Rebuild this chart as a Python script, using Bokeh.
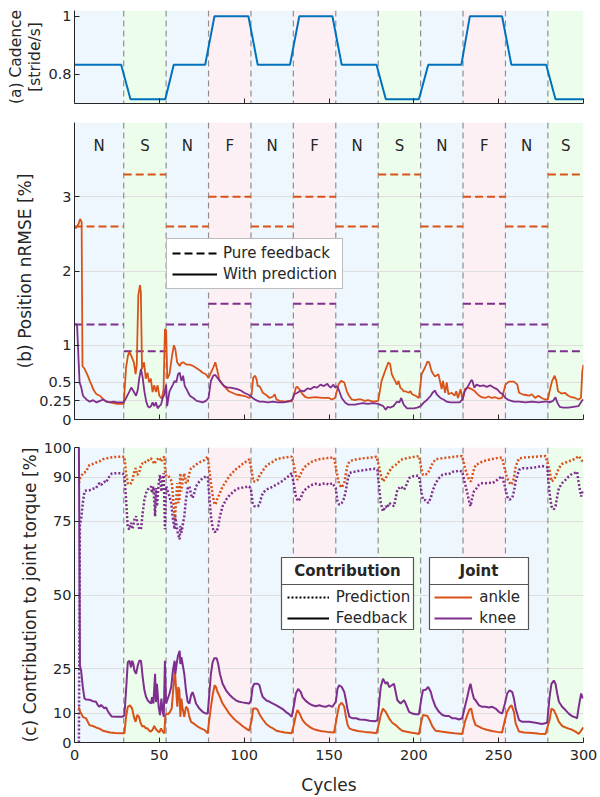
from bokeh.plotting import figure
from bokeh.layouts import column
from bokeh.models import (Range1d, FixedTicker, Legend, LegendItem, BoxAnnotation,
                          Label, Span)
from bokeh.core.properties import value
from bokeh.embed import file_html
from bokeh.resources import INLINE

FONT = "DejaVu Sans"
ORANGE = "#D95319"
PURPLE = "#7E2F8E"
BLUE = "#0072BD"
TXT = "#262626"

# ---------------- data ----------------
phase_start = [0, 29, 54, 79, 104, 129, 154, 179, 204, 229, 254, 279]
phase_end = [29, 54, 79, 104, 129, 154, 179, 204, 229, 254, 279, 300]
phase_label = ["N", "S", "N", "F", "N", "F", "N", "S", "N", "F", "N", "S"]
phase_color = {"N": "#eef7fd", "S": "#edfdeb", "F": "#fdf0f4"}

cadence_cycle = [0, 27.5, 33, 53.5, 58.5, 77, 82.5, 102.5, 108, 127, 132.5, 152, 157.5,
                 178, 183.5, 203, 208.5, 228, 233, 252, 257.5, 278, 283.5, 300]
cadence_value = [0.833, 0.833, 0.715, 0.715, 0.833, 0.833, 1.0, 1.0, 0.833, 0.833, 1.0, 1.0, 0.833,
                 0.833, 0.715, 0.715, 0.833, 0.833, 1.0, 1.0, 0.833, 0.833, 0.715, 0.715]

# pure-feedback nRMSE level per phase
ankle_pure = [2.6, 3.3, 2.6, 3.0, 2.6, 3.0, 2.6, 3.3, 2.6, 3.0, 2.6, 3.3]
knee_pure = [1.28, 0.92, 1.28, 1.56, 1.28, 1.56, 1.28, 0.92, 1.28, 1.56, 1.28, 0.92]

# with-prediction nRMSE (cycle, %)
ankle_nrmse = [
    (0.5, 2.57), (1.5, 2.6), (2.5, 2.64), (3.3, 2.7), (4.2, 2.66), (4.7, 0.72), (6, 0.68), (7, 0.63), (8, 0.58),
    (9, 0.52), (10, 0.47), (11, 0.41), (12, 0.37), (13, 0.34), (15, 0.32), (17, 0.27), (19, 0.24), (21, 0.23),
    (23, 0.22), (25, 0.21), (27, 0.21), (29, 0.21),
    (30.4, 0.70), (31.5, 0.86), (32.3, 0.91), (33.4, 0.86), (35, 0.77), (36, 0.61), (36.7, 0.74), (37.6, 1.67),
    (38.6, 1.81), (39.1, 1.72), (39.8, 0.68), (41, 0.77), (42, 0.55), (43, 0.63), (44, 0.50), (45, 0.55),
    (46, 0.37), (47, 0.46), (48, 0.37), (49, 0.46), (50, 0.32), (51.5, 0.28), (52.5, 0.41), (53.3, 1.22),
    (54, 1.20), (54.7, 0.55),
    (56, 0.61), (57.5, 0.86), (58.6, 1.0), (59.4, 0.95), (60.5, 0.77), (62, 0.72), (63, 0.76), (64, 0.77),
    (66, 0.74), (68, 0.74), (70, 0.72), (72, 0.69), (74, 0.66), (75.5, 0.63), (77.5, 0.61), (79, 0.56),
    (80.4, 0.63), (81.8, 0.70), (83, 0.77), (84, 0.68), (85.3, 0.54), (87.3, 0.47), (89, 0.43), (91, 0.38),
    (93, 0.36), (95, 0.34), (97, 0.33), (99, 0.32), (101, 0.31), (103, 0.29),
    (104.4, 0.34), (105.3, 0.56), (106.5, 0.59), (107.3, 0.54), (108, 0.45), (109, 0.45), (110, 0.41),
    (111, 0.36), (113, 0.33), (115, 0.29), (117, 0.31), (118, 0.34), (119, 0.27), (121, 0.25), (124, 0.24),
    (126, 0.25), (128, 0.24),
    (129.5, 0.34), (130.5, 0.43), (131.4, 0.44), (132.4, 0.41), (134.4, 0.34), (136.3, 0.30), (138, 0.29),
    (142, 0.30), (146, 0.29), (150, 0.29), (151.6, 0.27), (153.6, 0.29),
    (155.6, 0.47), (157, 0.52), (159, 0.50), (160.5, 0.38), (161.8, 0.32), (163.4, 0.27), (165.4, 0.26),
    (167, 0.27), (169, 0.27), (171, 0.25), (173, 0.26), (176, 0.24), (179, 0.25),
    (181, 0.52), (183, 0.65), (185, 0.77), (186, 0.75), (187, 0.61), (188, 0.56), (189, 0.52), (190, 0.47),
    (191, 0.52), (192, 0.43), (193, 0.41), (194, 0.38), (195, 0.38), (197, 0.36), (198, 0.38), (199, 0.34),
    (201, 0.32), (203, 0.29),
    (204.6, 0.61), (206.6, 0.70), (208, 0.78), (209, 0.77), (210.5, 0.65), (211.5, 0.61), (212.5, 0.58),
    (214.5, 0.61), (216.4, 0.41), (217.2, 0.52), (218.4, 0.36), (219.4, 0.50), (220.4, 0.34), (222.3, 0.36),
    (224, 0.32), (225, 0.38), (226, 0.29), (227.6, 0.41), (228.7, 0.25),
    (230, 0.41), (232, 0.43), (234, 0.41), (236, 0.38), (238, 0.33), (240, 0.30), (242, 0.29), (244, 0.31),
    (246, 0.29), (248, 0.30), (250, 0.28), (252, 0.29),
    (254, 0.47), (256, 0.51), (259, 0.51), (261, 0.47), (262, 0.36), (264, 0.34), (266, 0.33), (268, 0.32),
    (269.5, 0.34), (271.5, 0.29), (273.4, 0.32), (275.4, 0.29), (277.3, 0.27), (279, 0.27),
    (280, 0.38), (281.5, 0.52), (283, 0.59), (284, 0.52), (285, 0.38), (287, 0.35), (289, 0.36), (291, 0.32),
    (293, 0.30), (295, 0.29), (297, 0.27), (298.5, 0.29), (299.3, 0.65), (300, 0.74),
]
knee_nrmse = [
    (0.5, 1.28), (1.5, 1.28), (2.5, 0.75), (3, 0.50), (4, 0.43), (5, 0.32), (7, 0.27), (9, 0.24), (11, 0.26),
    (13, 0.23), (15, 0.25), (17, 0.27), (19, 0.24), (21, 0.23), (23, 0.24), (25, 0.23), (27, 0.23), (29, 0.23),
    (30.4, 0.29), (32.4, 0.38), (33.5, 0.43), (35.3, 0.36), (36.3, 0.32), (37.3, 0.40), (38.2, 0.56),
    (39.2, 0.68), (40.2, 0.56), (41.2, 0.38), (42.2, 0.25), (43.2, 0.18), (44.1, 0.16), (45.1, 0.18),
    (46, 0.23), (47, 0.18), (48, 0.23), (49, 0.15), (50, 0.18), (51, 0.20), (52, 0.29), (53, 0.34),
    (54, 0.47), (54.6, 0.18),
    (56, 0.38), (58, 0.47), (59, 0.52), (60, 0.50), (61, 0.61), (62, 0.63), (63, 0.52), (64, 0.59),
    (65, 0.45), (66, 0.41), (68, 0.32), (70, 0.29), (72, 0.25), (74, 0.24), (75.5, 0.23), (77.5, 0.25),
    (79, 0.29),
    (80.4, 0.52), (81.8, 0.59), (83, 0.60), (84.3, 0.56), (86.3, 0.50), (88.3, 0.45), (90.2, 0.43),
    (92, 0.43), (94, 0.42), (96, 0.41), (98, 0.39), (100, 0.36), (102, 0.34), (103.6, 0.32),
    (105, 0.29), (107, 0.26), (109, 0.24), (111, 0.24), (114, 0.23), (117, 0.24), (120, 0.23), (123, 0.23),
    (126, 0.24), (128.5, 0.27),
    (129.5, 0.34), (131.4, 0.36), (133.4, 0.39), (135.3, 0.38), (137.3, 0.42), (139.3, 0.41), (141.2, 0.44),
    (143, 0.43), (145, 0.47), (147, 0.45), (149, 0.48), (150, 0.45), (151, 0.43), (152.6, 0.47),
    (153.6, 0.43), (154.6, 0.45),
    (155.6, 0.41), (157.5, 0.29), (159.5, 0.23), (161.4, 0.20), (163.4, 0.20), (165.4, 0.20), (167.4, 0.21),
    (170, 0.22), (173, 0.21), (176, 0.22), (179, 0.21),
    (180, 0.20), (182, 0.18), (183.4, 0.13), (184.6, 0.17), (186, 0.16), (188, 0.18), (190, 0.24),
    (191.5, 0.23), (192.6, 0.29), (194, 0.20), (196, 0.15), (198, 0.15), (200, 0.15), (202, 0.16), (204, 0.18),
    (206, 0.23), (208, 0.27), (210, 0.32), (211, 0.36), (212.5, 0.39), (213.5, 0.34), (215.6, 0.29),
    (217.5, 0.27), (219.4, 0.24), (221.4, 0.23), (224, 0.23), (227, 0.23), (228.7, 0.27),
    (230, 0.38), (232, 0.45), (233.6, 0.52), (234.4, 0.53), (235.6, 0.43), (237, 0.47), (239, 0.45),
    (241, 0.46), (243, 0.44), (245, 0.46), (247, 0.43), (249, 0.41), (251, 0.36), (252.4, 0.34), (254, 0.29),
    (256, 0.26), (259, 0.24), (262, 0.24), (266, 0.23), (269.5, 0.24), (273.4, 0.23), (277.3, 0.24),
    (279, 0.24),
    (280, 0.23), (282, 0.25), (283.5, 0.30), (284.5, 0.23), (286, 0.17), (288, 0.16), (291, 0.16),
    (294, 0.17), (297, 0.18), (299, 0.25), (300, 0.27),
]

# feedback contribution to joint torque (cycle, %); prediction = 100 - feedback
knee_fb = [
    (2.6, 100), (3.2, 26), (3.9, 24.4), (4.9, 18.8), (5.9, 14.9), (6.8, 14.6), (8.8, 14.5), (10.8, 14.0),
    (12.7, 13.8), (13.7, 12.7), (14.7, 12.1), (15.7, 12.7), (16.7, 12.1), (17.6, 11.6), (18.6, 11.9),
    (19.6, 10.7), (20.6, 9.8), (22, 8.8), (25, 8.7), (28, 8.7),
    (29.4, 9.2), (30.4, 17.7), (31.4, 27.2), (32.4, 27.7), (33.3, 25.5), (34, 27.7), (34.7, 26.6),
    (35.3, 24.4), (36.3, 23.3), (37.3, 26.1), (38.2, 27.7), (39.2, 27.7), (40.2, 22.1), (41.2, 17.7),
    (42.2, 15.4), (43.2, 14.3), (44.1, 13.7), (45.1, 13.2), (45.7, 15.4), (46.5, 13.2), (47.5, 23.3),
    (48, 13.7), (48.6, 19.9), (49.6, 12.1), (50.4, 9.3), (51.2, 14.9), (52, 10.4), (52.6, 8.7),
    (53.3, 27.7), (54, 13.2),
    (55, 14.9), (56, 16.6), (57, 18.8), (58, 24.4), (59, 27.7), (59.4, 23.3), (60.2, 26.6), (61, 29.4),
    (62, 31.1), (62.4, 26.6), (63, 28.9), (63.7, 26.6), (64.7, 23.3), (65.7, 17.7), (66.7, 13.8),
    (67.7, 13.2), (68.7, 16.0), (69.6, 17.1), (70.6, 15.4), (71.6, 13.2), (73.6, 11.5), (75.5, 10.4),
    (77.5, 9.8), (78.5, 9.8),
    (79.4, 16.0), (80.4, 23.3), (81.4, 27.2), (82.4, 28.6), (83.8, 28.6), (84.7, 26.6), (85.7, 23.3),
    (87.3, 19.9), (89.3, 17.7), (91.2, 16.3), (93.2, 15.2), (95.1, 14.3), (97.1, 13.8), (99, 13.6),
    (101, 13.4), (103, 13.2),
    (104, 14.3), (105, 18.8), (106, 19.9), (108, 19.9), (109, 19.4), (110, 17.1), (111, 15.4), (113, 14.3),
    (115, 13.8), (117, 13.2), (119, 12.6), (121, 11.9), (123, 11.2), (124.5, 10.4), (126.5, 9.6), (128, 8.7),
    (129.5, 13.2), (130.5, 16.6), (131.8, 18.2), (133.4, 17.1), (134.4, 15.4), (136.3, 14.1), (138.3, 13.2),
    (140.3, 12.6), (142.2, 12.3), (144.2, 12.6), (146.1, 12.3), (148.1, 12.1), (150, 12.6), (152, 12.1),
    (154, 13.8),
    (155, 18.2), (156, 19.4), (157.5, 18.8), (159, 17.1), (160, 14.3), (161, 11.0), (162, 8.7), (164, 8.2),
    (166, 8.2), (168, 7.8), (171, 7.7), (174, 7.4), (177, 7.2), (178.5, 7.5),
    (179.5, 13.2), (180.5, 18.8), (181.8, 21.6), (183.4, 19.9), (184.4, 20.5), (185.4, 18.8), (187, 19.4),
    (188.3, 19.9), (189.3, 17.1), (190.3, 14.3), (192.2, 13.2), (194.2, 14.3), (195.2, 13.2), (197.2, 10.4),
    (199.1, 9.8), (201, 9.6), (203, 9.6),
    (204.6, 15.4), (205.4, 17.7), (207, 17.9), (208.5, 18.8), (210, 17.1), (211, 14.9), (212.8, 12.1),
    (214.8, 10.4), (216.8, 9.3), (218.7, 9.0), (220.7, 9.0), (222.7, 8.2), (224.6, 8.2), (226.6, 7.8),
    (228.5, 8.2),
    (230.1, 12.1), (231.5, 15.4), (232.8, 18.8), (233.4, 19.9), (234.4, 17.1), (235.4, 14.9), (236.4, 14.3),
    (238.4, 12.6), (240.3, 12.1), (242.3, 12.1), (244.2, 11.9), (246.2, 12.1), (248.2, 11.5), (250.1, 10.4),
    (252.1, 9.8),
    (253.7, 13.2), (255, 16.6), (256.4, 17.7), (258, 17.1), (259, 14.9), (260, 11.5), (262, 7.6), (264, 7.0),
    (268, 7.0), (271.7, 6.7), (275.6, 6.3), (278.6, 6.7),
    (280, 15.4), (281.1, 19.9), (282.5, 21.0), (283.5, 19.9), (284.5, 16.6), (285.5, 13.8), (287.4, 12.1),
    (289.4, 11.0), (291.3, 9.8), (293.3, 8.9), (295.3, 8.5), (296.2, 8.2), (297.2, 12.1), (298.6, 16.6),
    (299.6, 14.9),
]
ankle_fb = [
    (2.6, 12), (3.2, 10.5), (4, 9.8), (4.9, 8.7), (6.8, 8.2), (8.8, 5.9), (10.8, 5.6), (12.7, 5.1),
    (14.7, 4.7), (16.7, 4.0), (18.6, 3.7), (21, 3.4), (24, 3.2), (27.5, 3.1),
    (29.4, 3.1), (30.4, 8.7), (31.4, 12.1), (32.7, 12.6), (34, 11.5), (35, 8.7), (36, 7.0), (37, 9.3),
    (38, 8.7), (39, 6.5), (40, 5.4), (41, 5.6), (42, 4.8), (43, 4.8), (44, 4.0), (45, 3.7), (46, 4.3),
    (47, 5.6), (48, 4.5), (49, 3.9), (50, 3.4), (51, 4.8), (52, 3.7), (53, 3.1), (53.5, 9.0), (54.3, 9.8),
    (55.3, 9.6), (56.3, 10.4), (57.3, 11.5), (58.3, 18.8), (59.2, 24.4), (59.8, 18.8), (60.6, 12.1),
    (61.2, 18.8), (61.8, 17.7), (62.4, 8.7), (63, 14.9), (63.7, 11.5), (64.7, 8.7), (65.7, 12.1),
    (66.7, 11.5), (67.7, 8.7), (68.7, 7.0), (70.6, 6.3), (72.6, 5.4), (74.5, 4.8), (76.5, 4.3), (78.5, 3.1),
    (79.4, 7.6), (80.4, 12.1), (81.4, 16.0), (82.6, 19.4), (83.4, 18.8), (84.3, 17.1), (85.3, 16.0),
    (87.3, 13.2), (89.3, 11.5), (91.2, 9.8), (93.2, 8.5), (95.1, 7.4), (97.1, 6.5), (99, 5.6), (101, 4.8),
    (103, 4.0),
    (104.4, 7.6), (105.3, 11.5), (107, 11.5), (108, 11.0), (109, 9.6), (111, 7.8), (113, 6.3), (115, 5.4),
    (117, 4.8), (119, 4.0), (121, 3.7), (124, 3.4), (128, 3.1),
    (129.5, 6.5), (130.5, 9.3), (131.4, 11.0), (132.4, 10.1), (134.4, 7.6), (136.3, 6.3), (138.3, 5.4),
    (140.3, 4.7), (142.2, 4.3), (145, 3.9), (149, 3.6), (153, 3.4),
    (155, 9.8), (156, 12.6), (157.5, 13.5), (159, 12.1), (160, 8.7), (161, 5.9), (162, 4.8), (164, 4.3),
    (167, 3.9), (171, 3.6), (175, 3.4), (178, 3.1),
    (179.5, 6.5), (180.5, 9.3), (181.8, 11.5), (183.4, 10.4), (185.4, 8.2), (187.3, 6.7), (189.3, 5.9),
    (191.3, 4.8), (193.2, 4.0), (195.2, 3.7), (198, 3.4), (201, 3.1), (203, 2.9),
    (204.6, 7.6), (205.4, 9.3), (208, 9.0), (209.3, 7.6), (211, 5.4), (212.8, 4.0), (216, 3.7), (220, 3.4),
    (224, 3.1), (228.5, 2.9),
    (230.1, 7.0), (231.5, 9.3), (232.8, 11.2), (233.8, 11.5), (235, 8.2), (236.4, 5.9), (238.4, 5.4),
    (240.3, 4.8), (243, 4.3), (246, 3.9), (249, 3.6), (252, 3.4),
    (253.7, 7.6), (255, 10.4), (256.6, 12.1), (257.6, 12.6), (259, 10.4), (260, 6.5), (262, 3.7), (265, 3.4),
    (270, 3.2), (274, 3.0), (277.6, 2.9),
    (280, 7.6), (281.1, 11.5), (282.5, 11.0), (283.9, 9.3), (285.5, 7.0), (287.4, 5.6), (289.4, 5.1),
    (291.3, 4.7), (293.3, 4.3), (295.3, 3.7), (297.2, 2.9), (299.2, 4.5), (300, 5.1),
]

x_ticks = [0, 50, 100, 150, 200, 250, 300]
cad_ticks = [0.8, 1]
nrmse_ticks = [0, 0.25, 0.5, 1, 2, 3]
torque_ticks = [0, 10, 25, 50, 75, 90, 100]


def unzip(pairs):
    return [a for a, _ in pairs], [b for _, b in pairs]


def make_fig(height, yr, border_top, border_bottom, yticks, ylabel, show_xlabels):
    p = figure(width=600, height=height, x_range=Range1d(0, 300), y_range=Range1d(*yr),
               output_backend="svg", toolbar_location=None,
               min_border_left=74, min_border_right=17,
               min_border_top=border_top, min_border_bottom=border_bottom)
    p.outline_line_color = None
    p.background_fill_color = "white"
    p.border_fill_color = "white"
    p.xgrid.visible = False
    p.ygrid.ticker = FixedTicker(ticks=yticks)
    p.ygrid.grid_line_color = "#dedede"
    p.ygrid.grid_line_width = 1
    p.xaxis.ticker = FixedTicker(ticks=x_ticks)
    p.yaxis.ticker = FixedTicker(ticks=yticks)
    p.yaxis.major_label_overrides = {t: f"{t:g}" for t in yticks}
    for ax in (p.xaxis[0], p.yaxis[0]):
        ax.axis_line_color = TXT
        ax.axis_line_width = 1
        ax.major_tick_line_color = TXT
        ax.major_tick_in = 5
        ax.major_tick_out = 0
        ax.minor_tick_line_color = None
        ax.minor_tick_out = 0
        ax.minor_tick_in = 0
        ax.major_label_text_font = FONT
        ax.major_label_text_font_size = "14.5px"
        ax.major_label_text_color = TXT
        ax.major_label_standoff = 3
        ax.axis_label_text_font = FONT
        ax.axis_label_text_font_style = "normal"
        ax.axis_label_text_font_size = "17px"
        ax.axis_label_text_color = TXT
        ax.axis_label_standoff = 4
    p.yaxis.axis_label = ylabel
    p.yaxis.axis_label_standoff = 1
    if not show_xlabels:
        p.xaxis.major_label_text_font_size = "0px"
        p.xaxis.major_label_text_color = None
        p.xaxis.major_label_standoff = 0
    # phase shading and boundaries
    p.quad(left=phase_start, right=phase_end, bottom=yr[0], top=yr[1],
           fill_color=[phase_color[k] for k in phase_label], line_color=None, level="image")
    for b in phase_start[1:]:
        p.add_layout(Span(location=b, dimension="height", line_color="#8f8f8f",
                          line_width=1.2, line_dash="6 4", level="underlay"))
    return p


# ---------------- (a) cadence ----------------
pa = make_fig(112, (0.7, 1.02), 10, 9, cad_ticks, "(a) Cadence\n[stride/s]", False)
pa.ygrid.visible = False
pa.yaxis.axis_label_text_font_size = "15.5px"
pa.yaxis.axis_label_text_line_height = 1.1
pa.yaxis.axis_label_standoff = 1
pa.line(cadence_cycle, cadence_value, line_color=BLUE, line_width=2)

# ---------------- (b) nRMSE ----------------
pb = make_fig(325, (0, 4), 10, 18, nrmse_ticks, "(b) Position nRMSE [%]", False)
pb.segment(x0=phase_start, x1=phase_end, y0=ankle_pure, y1=ankle_pure,
           line_color=ORANGE, line_width=2, line_dash="8 4")
pb.segment(x0=phase_start, x1=phase_end, y0=knee_pure, y1=knee_pure,
           line_color=PURPLE, line_width=2, line_dash="8 4")
ax_, ay_ = unzip(ankle_nrmse)
kx_, ky_ = unzip(knee_nrmse)
pb.line(ax_, ay_, line_color=ORANGE, line_width=1.8)
pb.line(kx_, ky_, line_color=PURPLE, line_width=1.8)
pb.text(x=[(s + e) / 2 for s, e in zip(phase_start, phase_end)], y=[3.68] * len(phase_label),
        text=phase_label, text_font=value(FONT), text_font_size="15px", text_color=TXT,
        text_align="center", text_baseline="middle")
# hidden black copies used only as legend keys
r_dash = pb.segment(x0=phase_start, x1=phase_end, y0=ankle_pure, y1=ankle_pure,
                    line_color="black", line_width=2, line_dash="8 4", visible=False)
r_solid = pb.line(ax_, ay_, line_color="black", line_width=2, visible=False)
legb = Legend(items=[LegendItem(label="Pure feedback", renderers=[r_dash]),
                     LegendItem(label="With prediction", renderers=[r_solid])],
              location=(92, 130), label_text_font=FONT, label_text_font_size="15px",
              label_text_color=TXT, glyph_width=45, glyph_height=18, label_height=18,
              label_standoff=6, spacing=3, padding=5, margin=0,
              border_line_color="#7a7a7a", border_line_width=1, background_fill_alpha=1)
pb.add_layout(legb)

# ---------------- (c) torque contribution ----------------
pc = make_fig(360, (0, 100), 10, 51, torque_ticks, "(c) Contribution to joint torque [%]", True)
pc.xaxis.axis_label = "Cycles"
pc.xaxis.major_label_standoff = 7
pc.xaxis.axis_label_standoff = 12
kfx, kfy = unzip(knee_fb)
afx, afy = unzip(ankle_fb)
pc.line(afx, [100 - v for v in afy], line_color=ORANGE, line_width=2.5, line_dash="2 2")
pc.line(kfx, [100 - v for v in kfy], line_color=PURPLE, line_width=2.5, line_dash="2 2")
r_ank = pc.line(afx, afy, line_color=ORANGE, line_width=2)
r_kne = pc.line(kfx, kfy, line_color=PURPLE, line_width=2)
r_dot = pc.line(afx, [100 - v for v in afy], line_color="black", line_width=2, line_dash="2 2",
                visible=False)
r_fb = pc.line(afx, afy, line_color="black", line_width=2, visible=False)

BOX = "#555555"


def legend_box(p, left, right, bottom, top, sep, title, items, item_x, glyph_w):
    p.add_layout(BoxAnnotation(left=left, right=right, bottom=bottom, top=top,
                               left_units="screen", right_units="screen",
                               bottom_units="screen", top_units="screen",
                               fill_color="white", fill_alpha=1, line_color=BOX, line_width=1.2,
                               line_alpha=1))
    p.add_layout(BoxAnnotation(left=left, right=right, bottom=sep - 0.5, top=sep + 0.5,
                               left_units="screen", right_units="screen",
                               bottom_units="screen", top_units="screen",
                               fill_color=BOX, fill_alpha=1, line_color=None))
    p.add_layout(Label(x=(left + right) / 2, y=(sep + top) / 2, x_units="screen", y_units="screen",
                       text=title, text_font=FONT, text_font_size="15px", text_font_style="bold",
                       text_color=TXT, text_align="center", text_baseline="middle"))
    leg = Legend(items=items, location=(item_x, bottom + 1.5), label_text_font=FONT,
                 label_text_font_size="15px", label_text_color=TXT, glyph_width=glyph_w,
                 glyph_height=20, label_height=20, label_standoff=7, spacing=1, padding=0, margin=0,
                 border_line_color=None, background_fill_alpha=0)
    p.add_layout(leg)


legend_box(pc, 207, 339, 113, 185, 158,
           "Contribution",
           [LegendItem(label="Prediction", renderers=[r_dot]),
            LegendItem(label="Feedback", renderers=[r_fb])], 212.7, 42)
legend_box(pc, 355, 454, 113, 185, 158,
           "Joint",
           [LegendItem(label="ankle", renderers=[r_ank]),
            LegendItem(label="knee", renderers=[r_kne])], 360.3, 38)

layout = column(pa, pb, pc, spacing=0)
open("out.html", "w").write(file_html(layout, INLINE))
